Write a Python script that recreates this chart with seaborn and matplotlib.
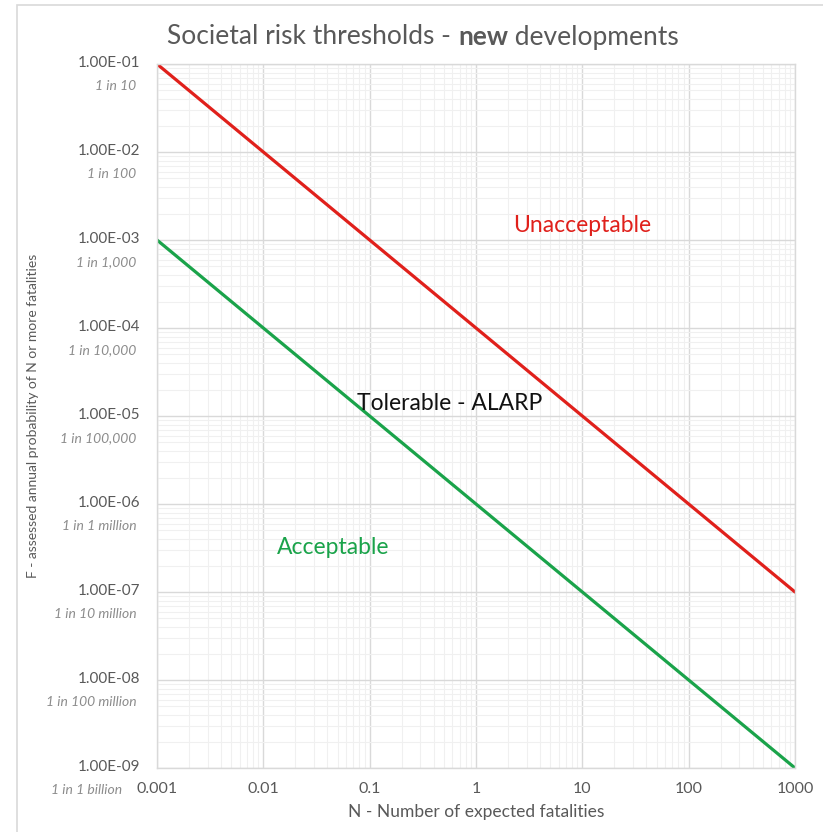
import numpy as np
import pandas as pd
import matplotlib.pyplot as plt
import matplotlib.ticker as mticker
from matplotlib.patches import Rectangle
import seaborn as sns

# threshold lines (end points)
n_points = [0.001, 1000]
unacceptable_f = [1e-1, 1e-7]
acceptable_f = [1e-3, 1e-9]

y_ticks = [1e-1, 1e-2, 1e-3, 1e-4, 1e-5, 1e-6, 1e-7, 1e-8, 1e-9]
y_tick_labels = ["1.00E-01", "1.00E-02", "1.00E-03", "1.00E-04", "1.00E-05",
                 "1.00E-06", "1.00E-07", "1.00E-08", "1.00E-09"]
y_sub_labels = ["1 in 10", "1 in 100", "1 in 1,000", "1 in 10,000", "1 in 100,000",
                "1 in 1 million", "1 in 10 million", "1 in 100 million", "1 in 1 billion"]
x_ticks = [0.001, 0.01, 0.1, 1, 10, 100, 1000]
x_tick_labels = ["0.001", "0.01", "0.1", "1", "10", "100", "1000"]

zone_labels = ["Unacceptable", "Tolerable - ALARP", "Acceptable"]
zone_x = [10, 0.56, 0.045]
zone_y = [1.45e-3, 1.38e-5, 3.2e-7]
zone_colors = ["#e0201b", "#111111", "#1aa34a"]

red = "#e0201b"
green = "#1aa34a"
dark = "#595959"
light = "#8c8c8c"

sns.set_theme(style="white")
plt.rcParams['font.family'] = ['Lato', 'DejaVu Sans']

df = pd.DataFrame({
    "N": n_points * 2,
    "F": unacceptable_f + acceptable_f,
    "line": ["Unacceptable"] * 2 + ["Acceptable"] * 2,
})

fig = plt.figure(figsize=(8.23, 8.32), dpi=100)
ax = fig.add_axes([157 / 823, 1 - 768 / 832, (795 - 157) / 823, (768 - 64) / 832])

# outer chart border (only top and left edges visible in the reference)
fig.patches.append(Rectangle((17 / 823, -0.1), 1.2, 1 - 5 / 832 + 0.1,
                             transform=fig.transFigure, fill=False,
                             edgecolor="#d9d9d9", linewidth=1.2))

sns.lineplot(data=df, x="N", y="F", hue="line",
             palette={"Unacceptable": red, "Acceptable": green},
             linewidth=2.3, legend=False, ax=ax)

ax.set_xscale("log")
ax.set_yscale("log")
ax.set_xlim(0.001, 1000)
ax.set_ylim(1e-9, 1e-1)

ax.xaxis.set_major_locator(mticker.FixedLocator(x_ticks))
ax.xaxis.set_minor_locator(mticker.LogLocator(base=10, subs=np.arange(2, 10), numticks=20))
ax.yaxis.set_major_locator(mticker.FixedLocator(y_ticks))
ax.yaxis.set_minor_locator(mticker.LogLocator(base=10, subs=np.arange(2, 10), numticks=20))
ax.xaxis.set_minor_formatter(mticker.NullFormatter())
ax.yaxis.set_minor_formatter(mticker.NullFormatter())

ax.grid(which="major", color="#d9d9d9", linewidth=1.0)
ax.grid(which="minor", color="#f0f0f0", linewidth=0.8)
ax.set_axisbelow(True)
for s in ax.spines.values():
    s.set_color("#d9d9d9")
    s.set_linewidth(1.0)

ax.set_xticklabels(x_tick_labels)
ax.tick_params(axis="x", length=0, pad=10, labelsize=11.5, labelcolor=dark)
ax.set_yticklabels([])
ax.tick_params(axis="y", length=0)

# two-line y tick labels; the bottom one is pushed left to clear "0.001"
for i, (yv, main, sub) in enumerate(zip(y_ticks, y_tick_labels, y_sub_labels)):
    ax.annotate(main, xy=(0, yv), xycoords=("axes fraction", "data"),
                xytext=(-12, 1), textcoords="offset points",
                ha="right", va="center", fontsize=11, color=dark)
    dx = -25 if i == len(y_ticks) - 1 else -15
    ax.annotate(sub, xy=(0, yv), xycoords=("axes fraction", "data"),
                xytext=(dx, -16), textcoords="offset points",
                ha="right", va="center", fontsize=10, color=light, style="italic")

ax.set_xlabel("N - Number of expected fatalities", fontsize=12.5, color=dark, labelpad=6)
ax.set_ylabel("")
fig.text(33 / 823, 1 - 416 / 832, "F - assessed annual probability of N or more fatalities",
         rotation=90, ha="center", va="center", fontsize=10, color=dark)

for lbl, xv, yv, c in zip(zone_labels, zone_x, zone_y, zone_colors):
    ax.text(xv, yv, lbl, ha="center", va="center", fontsize=16.5, color=c)

# title with bold middle word
parts = [("Societal risk thresholds - ", "normal"), ("new", "bold"), (" developments", "normal")]
fig.canvas.draw()
renderer = fig.canvas.get_renderer()
texts = []
widths = []
for txt, w in parts:
    t = fig.text(0, 1 - 37 / 832, txt, fontsize=19, color=dark, weight=w,
                 ha="left", va="center")
    bb = t.get_window_extent(renderer)
    texts.append(t)
    widths.append(bb.width)
total = sum(widths)
x0 = 423 - total / 2
for t, w in zip(texts, widths):
    t.set_x(x0 / 823)
    x0 += w

fig.savefig("out.png", dpi=100)
